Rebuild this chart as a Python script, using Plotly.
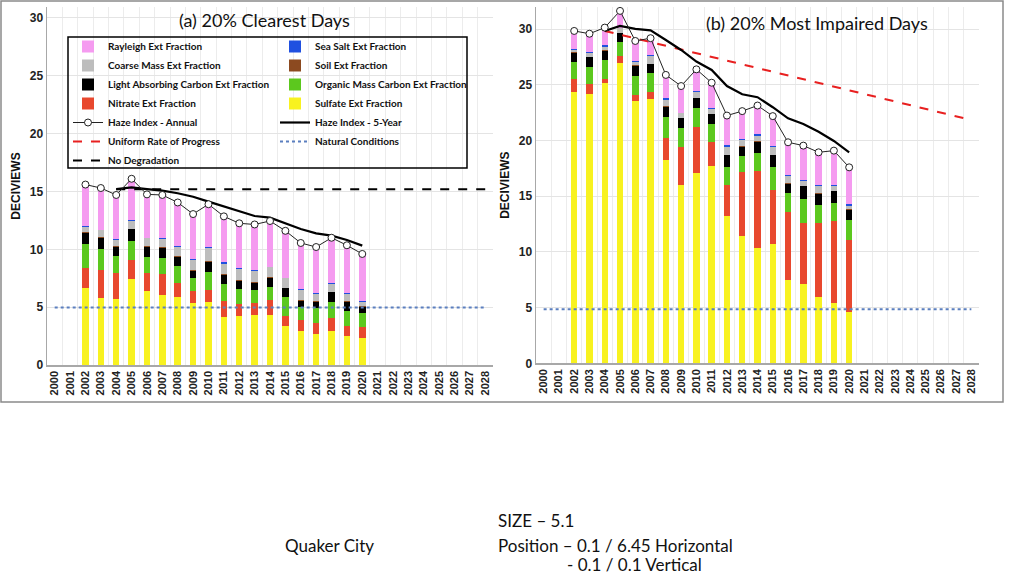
import plotly.graph_objects as go

# ---------------- data ----------------
years = list(range(2002, 2021))
years_5yr = list(range(2004, 2021))
axis_years = list(range(2000, 2029))

# (a) 20% clearest days - segment values (deciviews)
clr_sulfate = [6.69, 5.76, 5.70, 7.43, 6.40, 6.05, 5.85, 5.33, 5.42, 4.18, 4.26, 4.32, 4.32, 3.40, 2.97, 2.68, 2.97, 2.51, 2.36]
clr_nitrate = [1.72, 2.45, 2.23, 1.65, 1.53, 1.79, 1.21, 1.07, 1.06, 1.38, 1.01, 1.01, 1.30, 0.86, 0.92, 0.92, 1.06, 0.86, 0.95]
clr_organic = [2.02, 1.79, 1.49, 1.64, 1.37, 1.44, 1.50, 1.09, 1.59, 1.44, 1.30, 1.15, 1.15, 1.64, 1.15, 1.30, 1.45, 1.33, 1.16]
clr_lac = [0.95, 1.00, 0.81, 1.01, 0.93, 0.86, 0.81, 0.67, 0.86, 0.78, 0.69, 0.64, 0.78, 0.73, 0.52, 0.52, 0.80, 0.78, 0.57]
clr_soil = [0.09, 0.05, 0.07, 0.07, 0.07, 0.06, 0.08, 0.09, 0.07, 0.07, 0.09, 0.08, 0.05, 0.07, 0.04, 0.08, 0.07, 0.07, 0.06]
clr_coarse = [0.49, 0.62, 0.50, 0.62, 0.65, 0.70, 0.78, 0.83, 1.14, 0.88, 0.95, 0.96, 0.84, 0.79, 0.88, 0.64, 0.65, 0.56, 0.38]
clr_seasalt = [0.06, 0.03, 0.12, 0.08, 0.05, 0.10, 0.04, 0.05, 0.06, 0.15, 0.05, 0.04, 0.06, 0.03, 0.07, 0.06, 0.06, 0.09, 0.04]
clr_rayleigh = [3.54, 3.66, 3.78, 3.50, 3.78, 3.75, 3.79, 3.97, 3.80, 4.02, 3.95, 4.00, 4.00, 4.08, 4.03, 3.97, 3.91, 4.17, 4.03]
clr_annual = [15.6, 15.3, 14.7, 16.1, 14.75, 14.7, 14.05, 13.05, 13.9, 12.85, 12.25, 12.15, 12.45, 11.6, 10.55, 10.2, 11.0, 10.35, 9.6]
clr_5yr = [15.2, 15.35, 15.2, 15.07, 14.85, 14.55, 14.12, 13.69, 13.26, 12.88, 12.74, 12.25, 11.76, 11.38, 11.18, 10.81, 10.32]
clr_nodeg_x = [2004, 2028]
clr_nodeg_y = [15.2, 15.2]
clr_natural_x = [2000, 2028]
clr_natural_y = [4.98, 4.98]

# (b) 20% most impaired days - segment values (deciviews)
imp_sulfate = [24.40, 24.16, 25.15, 26.95, 23.56, 23.70, 18.26, 15.98, 17.13, 17.72, 13.25, 11.45, 10.40, 10.70, 7.44, 7.10, 5.94, 5.46, 4.65]
imp_nitrate = [1.17, 0.93, 0.39, 0.68, 0.54, 0.70, 2.01, 3.48, 4.13, 2.18, 2.77, 5.77, 6.91, 4.83, 6.16, 5.50, 6.66, 7.28, 6.45]
imp_organic = [1.53, 1.56, 1.71, 1.20, 1.70, 1.65, 1.89, 1.64, 1.64, 1.60, 1.64, 1.40, 1.55, 2.07, 1.69, 2.15, 1.64, 1.65, 1.73]
imp_lac = [0.80, 0.84, 0.80, 0.81, 0.90, 0.81, 0.89, 0.90, 0.90, 0.87, 1.05, 0.84, 1.04, 1.10, 0.81, 1.15, 0.99, 1.05, 0.96]
imp_soil = [0.05, 0.06, 0.05, 0.06, 0.05, 0.04, 0.05, 0.05, 0.05, 0.03, 0.04, 0.04, 0.05, 0.05, 0.05, 0.05, 0.07, 0.06, 0.06]
imp_coarse = [0.19, 0.29, 0.34, 0.39, 0.35, 0.70, 0.55, 0.41, 0.55, 0.44, 0.71, 0.56, 0.50, 0.71, 0.70, 0.40, 0.60, 0.40, 0.30]
imp_seasalt = [0.06, 0.09, 0.11, 0.03, 0.05, 0.05, 0.15, 0.04, 0.05, 0.12, 0.14, 0.12, 0.12, 0.09, 0.10, 0.12, 0.10, 0.10, 0.12]
imp_rayleigh = [1.65, 1.71, 1.63, 1.53, 1.80, 1.63, 2.10, 2.40, 2.00, 2.29, 2.65, 2.48, 2.63, 2.70, 2.90, 3.05, 2.95, 3.10, 3.23]
imp_annual = [29.85, 29.6, 30.15, 31.65, 28.95, 29.2, 25.9, 24.9, 26.4, 25.2, 22.25, 22.65, 23.15, 22.2, 19.85, 19.55, 18.95, 19.1, 17.6]
imp_5yr = [29.85, 30.3, 30.03, 29.9, 29.04, 28.14, 27.1, 26.35, 24.9, 24.16, 23.9, 23.0, 22.0, 21.5, 20.8, 19.97, 18.95]
imp_urp_x = [2004, 2028]
imp_urp_y = [29.85, 21.85]
imp_natural_x = [2000, 2028]
imp_natural_y = [4.85, 4.85]

species_names = ["Sulfate Ext Fraction", "Nitrate Ext Fraction", "Organic Mass Carbon Ext Fraction",
                 "Light Absorbing Carbon Ext Fraction", "Soil Ext Fraction", "Coarse Mass Ext Fraction",
                 "Sea Salt Ext Fraction", "Rayleigh Ext Fraction"]
species_colors = ["#f8f220", "#e8482e", "#5cc81e", "#000000", "#8c4a20", "#bdbdbd", "#2050e0", "#f59bf0"]
# legend column and rank for each species
species_legend = ["legend2", "legend", "legend2", "legend", "legend2", "legend", "legend2", "legend"]
species_rank = [4, 4, 3, 3, 2, 2, 1, 1]

clear_stack = [clr_sulfate, clr_nitrate, clr_organic, clr_lac, clr_soil, clr_coarse, clr_seasalt, clr_rayleigh]
imp_stack = [imp_sulfate, imp_nitrate, imp_organic, imp_lac, imp_soil, imp_coarse, imp_seasalt, imp_rayleigh]

# ---------------- geometry helpers (pixel -> paper) ----------------
W, H = 1024, 576
ML, MR, MT, MB = 47, 45, 7, 211
PW = W - ML - MR
PH = H - MT - MB


def px(x):
    return (x - ML) / PW


def py(y):
    return (H - MB - y) / PH


fig = go.Figure()

BAR_W = 0.42
for i, name in enumerate(species_names):
    fig.add_trace(go.Bar(x=years, y=clear_stack[i], name=name, width=BAR_W,
                         marker=dict(color=species_colors[i], line=dict(width=0)),
                         xaxis="x", yaxis="y", legend=species_legend[i],
                         legendrank=species_rank[i], showlegend=True))
for i, name in enumerate(species_names):
    fig.add_trace(go.Bar(x=years, y=imp_stack[i], name=name, width=BAR_W,
                         marker=dict(color=species_colors[i], line=dict(width=0)),
                         xaxis="x2", yaxis="y2", showlegend=False))

line_dark = "#222222"
# Clearest lines
fig.add_trace(go.Scatter(x=clr_natural_x, y=clr_natural_y, mode="lines", name="Natural Conditions",
                         line=dict(color="#5b7fbf", width=2, dash="dot"),
                         xaxis="x", yaxis="y", legend="legend2", legendrank=6))
fig.add_trace(go.Scatter(x=clr_nodeg_x, y=clr_nodeg_y, mode="lines", name="No Degradation",
                         line=dict(color="black", width=2, dash="dash"),
                         xaxis="x", yaxis="y", legend="legend", legendrank=7))
fig.add_trace(go.Scatter(x=years_5yr, y=clr_5yr, mode="lines", name="Haze Index - 5-Year",
                         line=dict(color="black", width=2.2),
                         xaxis="x", yaxis="y", legend="legend2", legendrank=5))
fig.add_trace(go.Scatter(x=years, y=clr_annual, mode="lines+markers", name="Haze Index - Annual",
                         line=dict(color=line_dark, width=1),
                         marker=dict(symbol="circle", size=7, color="white", line=dict(color=line_dark, width=1)),
                         xaxis="x", yaxis="y", legend="legend", legendrank=5))
# Impaired lines
fig.add_trace(go.Scatter(x=imp_natural_x, y=imp_natural_y, mode="lines", name="Natural Conditions",
                         line=dict(color="#5b7fbf", width=2, dash="dot"),
                         xaxis="x2", yaxis="y2", showlegend=False))
fig.add_trace(go.Scatter(x=imp_urp_x, y=imp_urp_y, mode="lines", name="Uniform Rate of Progress",
                         line=dict(color="#e82020", width=2, dash="dash"),
                         xaxis="x2", yaxis="y2", legend="legend", legendrank=6))
fig.add_trace(go.Scatter(x=years_5yr, y=imp_5yr, mode="lines", name="Haze Index - 5-Year",
                         line=dict(color="black", width=2.2),
                         xaxis="x2", yaxis="y2", showlegend=False))
fig.add_trace(go.Scatter(x=years, y=imp_annual, mode="lines+markers", name="Haze Index - Annual",
                         line=dict(color=line_dark, width=1),
                         marker=dict(symbol="circle", size=7, color="white", line=dict(color=line_dark, width=1)),
                         xaxis="x2", yaxis="y2", showlegend=False))

tick_font = dict(family="Liberation Sans, Arial", size=11, color="#222", weight="bold")
ytick_font = dict(family="Liberation Sans, Arial", size=12, color="#222", weight="bold")
title_font = dict(family="Liberation Sans, Arial", size=12, color="#111", weight="bold")

xa = dict(range=[1999.5, 2028.5], tickmode="array", tickvals=axis_years,
          ticktext=[str(y) for y in axis_years], tickangle=-90, tickfont=tick_font,
          showgrid=False, showline=True, linecolor="#a8a8a8", linewidth=1.5, ticks="",
          zeroline=False, fixedrange=True,
          minor=dict(tickmode="array", tickvals=[y - 0.5 for y in axis_years] + [2028.5],
                     showgrid=True, gridcolor="#ececec", gridwidth=1, ticks=""))
ya = dict(tickmode="linear", tick0=0, dtick=5, tickfont=ytick_font, showgrid=True,
          gridcolor="#e4e4e4", gridwidth=1, showline=True, linecolor="#a8a8a8", linewidth=1.5,
          zeroline=False, ticks="", fixedrange=True,
          title=dict(text="DECIVIEWS", font=title_font, standoff=6))

legend_font = dict(family="Lato", size=10, color="#111", weight="bold")
fig.update_layout(
    width=W, height=H,
    margin=dict(l=ML, r=MR, t=MT, b=MB, autoexpand=False),
    template="none",
    paper_bgcolor="white", plot_bgcolor="white",
    barmode="stack",
    hovermode=False,
    xaxis=dict(xa, domain=[0, px(493)], anchor="y"),
    yaxis=dict(ya, domain=[0, 1], range=[0, 30.95], anchor="x"),
    xaxis2=dict(xa, domain=[px(536), 1], anchor="y2"),
    yaxis2=dict(ya, domain=[py(363.3), 1], range=[0, 32.0], anchor="x2"),
    legend=dict(x=px(68), y=py(32), xanchor="left", yanchor="top", bgcolor="rgba(0,0,0,0)",
                borderwidth=0, traceorder="normal", itemwidth=30, font=legend_font),
    legend2=dict(x=px(275), y=py(32), xanchor="left", yanchor="top", bgcolor="rgba(0,0,0,0)",
                 borderwidth=0, traceorder="normal", itemwidth=30, font=legend_font),
    showlegend=True,
)

# legend frame and outer frame
fig.add_shape(type="rect", xref="paper", yref="paper", x0=px(68), x1=px(467), y0=py(168), y1=py(37),
              line=dict(color="black", width=1.5), fillcolor="rgba(0,0,0,0)", layer="above")
fig.add_shape(type="rect", xref="paper", yref="paper", x0=px(1), x1=px(1003), y0=py(402), y1=py(1),
              line=dict(color="#8a8a8a", width=1.5), fillcolor="rgba(0,0,0,0)", layer="above")

title_font_big = dict(family="Lato", size=18, color="#111")
fig.add_annotation(text="(a) 20% Clearest Days", xref="paper", yref="paper", x=px(264), y=py(20),
                   xanchor="center", yanchor="middle", showarrow=False, font=title_font_big)
fig.add_annotation(text="(b) 20% Most Impaired Days", xref="paper", yref="paper", x=px(817), y=py(23),
                   xanchor="center", yanchor="middle", showarrow=False, font=title_font_big)

bottom_font = dict(family="Lato", size=17, color="#111")
fig.add_annotation(text="Quaker City", xref="paper", yref="paper", x=px(283), y=py(545),
                   xanchor="left", yanchor="middle", showarrow=False, font=bottom_font)
fig.add_annotation(text="SIZE – 5.1", xref="paper", yref="paper", x=px(496), y=py(520),
                   xanchor="left", yanchor="middle", showarrow=False, font=bottom_font)
fig.add_annotation(text="Position – 0.1 / 6.45 Horizontal", xref="paper", yref="paper", x=px(496), y=py(545),
                   xanchor="left", yanchor="middle", showarrow=False, font=bottom_font)
fig.add_annotation(text="- 0.1 / 0.1 Vertical", xref="paper", yref="paper", x=px(565), y=py(564),
                   xanchor="left", yanchor="middle", showarrow=False, font=bottom_font)

fig.write_html("out.html", config={"displayModeBar": False, "staticPlot": True},
               post_script="document.body.style.margin='0px';document.body.style.overflow='hidden';")
